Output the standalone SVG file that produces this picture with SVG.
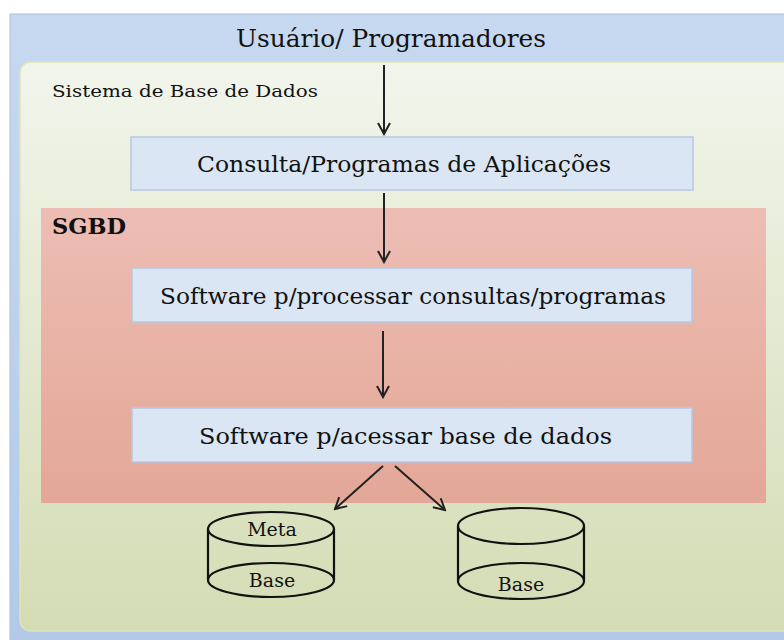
<svg xmlns="http://www.w3.org/2000/svg" width="784" height="640" viewBox="0 0 784 640">
  <style>
    .t { font-family: "DejaVu Serif", "Liberation Serif", serif; fill: #111; }
    .box { fill: #dae6f3; stroke: #b5c9e3; stroke-width: 1.5; }
    .wire { fill: none; stroke: #222; stroke-width: 2; }
    .cyl { fill: none; stroke: #111; stroke-width: 2.2; }
  </style>
  <defs>
    <linearGradient id="gBlue" x1="0" y1="0" x2="0" y2="1">
      <stop offset="0" stop-color="#c7d9f0"/>
      <stop offset="1" stop-color="#b3c9e7"/>
    </linearGradient>
    <linearGradient id="gGreen" x1="0" y1="0" x2="0" y2="1">
      <stop offset="0" stop-color="#f2f5ec"/>
      <stop offset="1" stop-color="#d4dcb4"/>
    </linearGradient>
    <linearGradient id="gPink" x1="0" y1="0" x2="0" y2="1">
      <stop offset="0" stop-color="#edbdb4"/>
      <stop offset="1" stop-color="#e3a797"/>
    </linearGradient>
    <marker id="vee" viewBox="0 0 14 14" refX="12" refY="7" markerWidth="14" markerHeight="14" markerUnits="userSpaceOnUse" orient="auto">
      <path d="M1,1 L12,7 L1,13" fill="none" stroke="#222" stroke-width="2"/>
    </marker>
  </defs>

  <!-- user / programmer layer -->
  <g id="usuarios">
    <rect x="10" y="14" width="780" height="630" fill="url(#gBlue)" stroke="#a9c0df" stroke-width="1"/>
    <text class="t" x="236" y="47" font-size="24" textLength="310" lengthAdjust="spacingAndGlyphs">Usuário/ Programadores</text>
  </g>

  <!-- database system container -->
  <g id="sistema">
    <rect x="20" y="62" width="775" height="569" rx="11" fill="url(#gGreen)" stroke="#dfe5b8" stroke-width="1.5"/>
    <text class="t" x="52" y="97" font-size="17" textLength="266" lengthAdjust="spacingAndGlyphs">Sistema de Base de Dados</text>
  </g>

  <g id="consulta">
    <rect class="box" x="131" y="137" width="562" height="53"/>
    <text class="t" x="197" y="172" font-size="23" textLength="414" lengthAdjust="spacingAndGlyphs">Consulta/Programas de Aplicações</text>
  </g>

  <!-- DBMS container -->
  <g id="sgbd">
    <rect x="41" y="208" width="725" height="295" fill="url(#gPink)"/>
    <text class="t" x="52" y="234" font-size="22" font-weight="bold" textLength="74" lengthAdjust="spacingAndGlyphs">SGBD</text>
  </g>

  <g id="processar">
    <rect class="box" x="132" y="268" width="560" height="54"/>
    <text class="t" x="160" y="304" font-size="23" textLength="506" lengthAdjust="spacingAndGlyphs">Software p/processar consultas/programas</text>
  </g>

  <g id="acessar">
    <rect class="box" x="132" y="408" width="560" height="54"/>
    <text class="t" x="199" y="444" font-size="23" textLength="413" lengthAdjust="spacingAndGlyphs">Software p/acessar base de dados</text>
  </g>

  <!-- stored metadata -->
  <g id="meta">
    <path class="cyl" d="M208,529 L208,580 M334,529 L334,580"/>
    <ellipse class="cyl" cx="271" cy="529" rx="63" ry="17"/>
    <path class="cyl" d="M208,580 A63,17 0 0 1 334,580 A63,17 0 0 1 208,580"/>
    <text class="t" x="272" y="536" font-size="19" text-anchor="middle">Meta</text>
    <text class="t" x="272" y="587" font-size="19" text-anchor="middle">Base</text>
  </g>

  <!-- stored data -->
  <g id="base">
    <path class="cyl" d="M458,526 L458,581 M584,526 L584,581"/>
    <ellipse class="cyl" cx="521" cy="526" rx="63" ry="18"/>
    <path class="cyl" d="M458,581 A63,18 0 0 1 584,581 A63,18 0 0 1 458,581"/>
    <text class="t" x="521" y="591" font-size="19" text-anchor="middle">Base</text>
  </g>

  <g id="connectors">
    <line class="wire" x1="384" y1="65" x2="384" y2="134" marker-end="url(#vee)"/>
    <line class="wire" x1="384" y1="193" x2="384" y2="262" marker-end="url(#vee)"/>
    <line class="wire" x1="383" y1="331" x2="383" y2="397" marker-end="url(#vee)"/>
    <line class="wire" x1="383" y1="466" x2="335" y2="509" marker-end="url(#vee)"/>
    <line class="wire" x1="395" y1="466" x2="445" y2="510" marker-end="url(#vee)"/>
  </g>
</svg>
